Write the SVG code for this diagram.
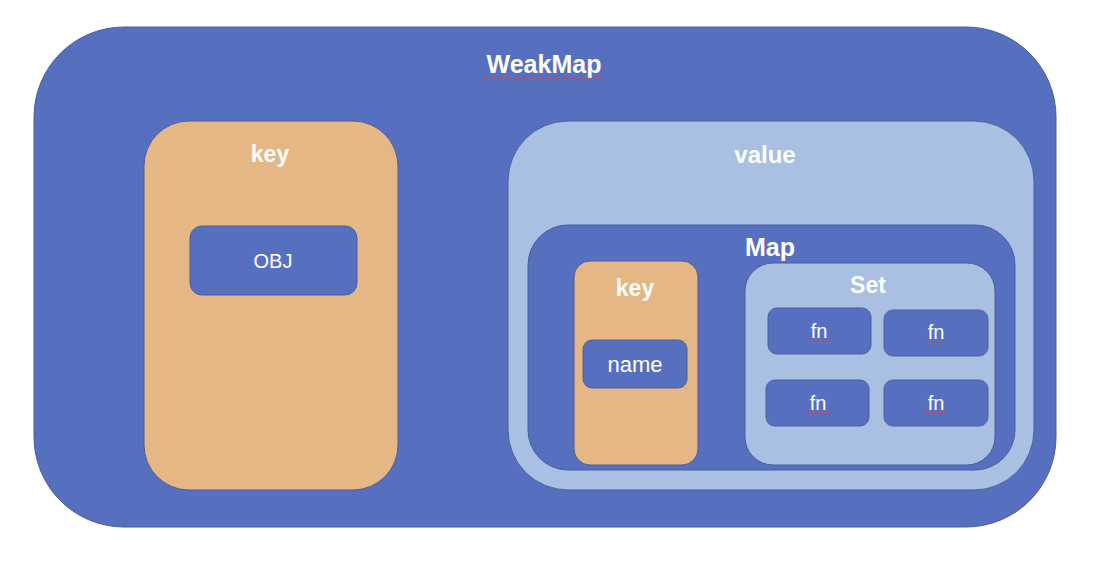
<svg xmlns="http://www.w3.org/2000/svg" width="1105" height="568" viewBox="0 0 1105 568">
<style>
.blue{fill:#5670BF;stroke:#4A5E9E;stroke-width:1}
.orange{fill:#E5B785;stroke:#4A5E9E;stroke-width:1}
.light{fill:#A9C0E3;stroke:#4A5E9E;stroke-width:1}
.t{font-family:"Liberation Sans",Arial,sans-serif;fill:#FFFFFF;text-anchor:middle}
.b{font-weight:bold;font-size:23px}
.r{font-size:20px}
.sq{fill:none;stroke:#E0443C;stroke-width:1}
</style>
<rect width="1105" height="568" fill="#FFFFFF"/>
<g id="weakmap">
<rect class="blue" x="34" y="27" width="1022" height="500" rx="90" ry="90"/>
<text class="t b" x="544" y="73" style="font-size:25px">WeakMap</text>
<path class="sq" d="M483 79 q2 -2 4 0 t4 0 t4 0 t4 0 t4 0 t4 0 t4 0 t4 0 t4 0 t4 0 t4 0 t4 0 t4 0 t4 0 t4 0 t4 0 t4 0 t4 0 t4 0 t4 0 t4 0 t4 0 t4 0 t4 0 t4 0 t4 0 t4 0 t4 0 t4 0 t4 0"/>
</g>
<g id="key-outer">
<rect class="orange" x="144" y="121" width="254" height="369" rx="45" ry="45"/>
<text class="t b" x="270" y="162">key</text>
</g>
<g id="obj">
<rect class="blue" x="190" y="226" width="167" height="69" rx="12" ry="12"/>
<text class="t r" x="273" y="268">OBJ</text>
</g>
<g id="value">
<rect class="light" x="508" y="121" width="526" height="369" rx="60" ry="60"/>
<text class="t b" x="765" y="163" style="font-size:24px">value</text>
</g>
<g id="map">
<rect class="blue" x="528" y="225" width="487" height="245" rx="40" ry="40"/>
<text class="t b" x="770" y="256" style="font-size:25px">Map</text>
</g>
<g id="key-inner">
<rect class="orange" x="574" y="261" width="124" height="204" rx="16" ry="16"/>
<text class="t b" x="635" y="296">key</text>
</g>
<g id="name">
<rect class="blue" x="583" y="340" width="104" height="48" rx="9" ry="9"/>
<text class="t r" x="635" y="372" style="font-size:22px">name</text>
</g>
<g id="set">
<rect class="light" x="745" y="263" width="250" height="202" rx="28" ry="28"/>
<text class="t b" x="868" y="293">Set</text>
</g>
<g id="fn1">
<rect class="blue" x="768" y="308" width="103" height="46" rx="9" ry="9"/>
<text class="t r" x="819" y="338">fn</text>
<path class="sq" d="M809 341 q1.5 -1.5 3 0 t3 0 t3 0 t3 0 t3 0 t3 0 t3 0"/>
</g>
<g id="fn2">
<rect class="blue" x="884" y="310" width="104" height="46" rx="9" ry="9"/>
<text class="t r" x="936" y="339">fn</text>
<path class="sq" d="M926 342 q1.5 -1.5 3 0 t3 0 t3 0 t3 0 t3 0 t3 0 t3 0"/>
</g>
<g id="fn3">
<rect class="blue" x="766" y="380" width="103" height="46" rx="9" ry="9"/>
<text class="t r" x="818" y="410">fn</text>
<path class="sq" d="M808 413 q1.5 -1.5 3 0 t3 0 t3 0 t3 0 t3 0 t3 0 t3 0"/>
</g>
<g id="fn4">
<rect class="blue" x="884" y="380" width="104" height="46" rx="9" ry="9"/>
<text class="t r" x="936" y="410">fn</text>
<path class="sq" d="M926 413 q1.5 -1.5 3 0 t3 0 t3 0 t3 0 t3 0 t3 0 t3 0"/>
</g>
<g id="connectors"></g>
</svg>
